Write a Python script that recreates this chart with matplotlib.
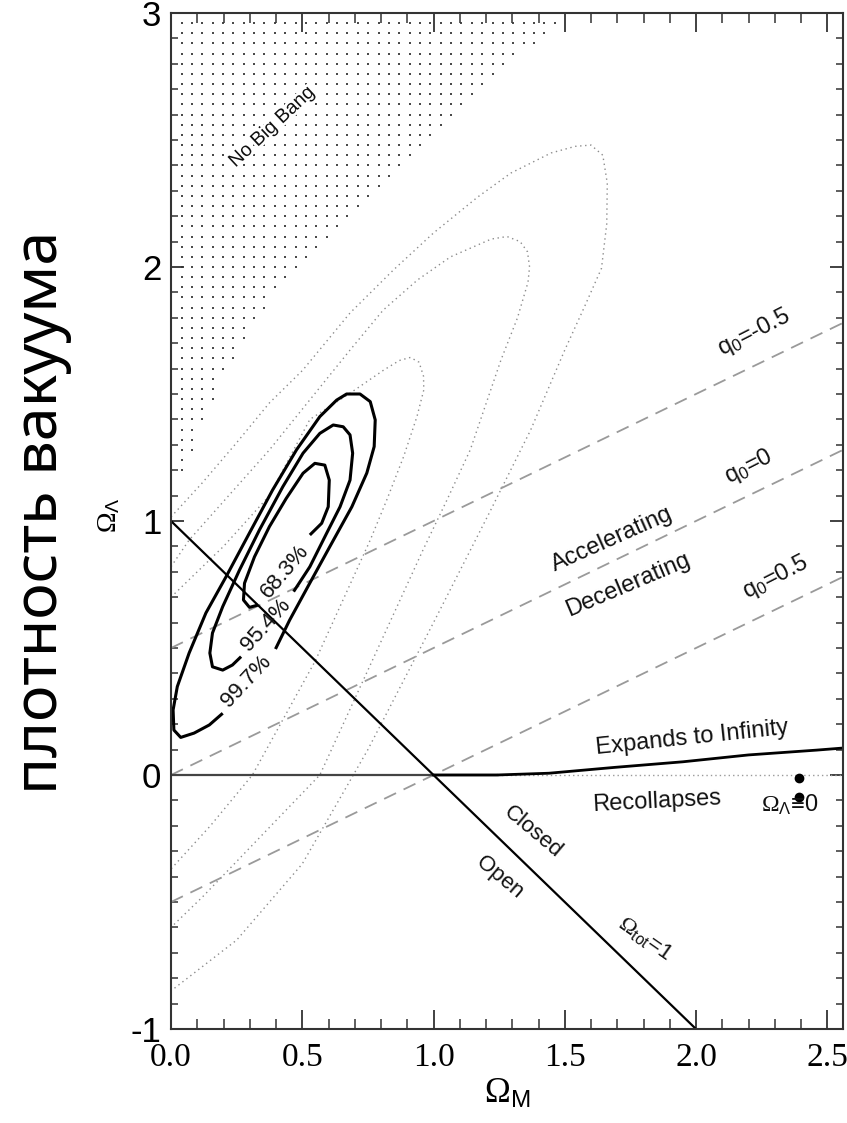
import numpy as np
import matplotlib
matplotlib.use("Agg")
from matplotlib import pyplot as plt
from matplotlib import patheffects
from matplotlib.ticker import MultipleLocator, FormatStrFormatter

plt.rcParams['mathtext.fontset'] = 'custom'
plt.rcParams['mathtext.rm'] = 'Liberation Serif'
plt.rcParams['mathtext.sf'] = 'Liberation Sans'
plt.rcParams['mathtext.it'] = 'Liberation Serif:italic'
plt.rcParams['lines.scale_dashes'] = False
plt.rcParams['axes.unicode_minus'] = False

SANS = 'Liberation Sans'
SERIF = 'Liberation Serif'

X_LIM = (0.0, 2.56)
Y_LIM = (-1.0, 3.0)

# solid confidence contours (open where the label sits)
C68_X = [0.331, 0.299, 0.276, 0.280, 0.318, 0.375, 0.439, 0.503, 0.548, 0.586,
         0.603, 0.599, 0.574, 0.529]
C68_Y = [0.669, 0.660, 0.689, 0.755, 0.859, 0.978, 1.089, 1.188, 1.227, 1.220,
         1.161, 1.056, 0.991, 0.945]
C95_X = [0.267, 0.234, 0.197, 0.158, 0.148, 0.158, 0.197, 0.261, 0.337, 0.426,
         0.503, 0.567, 0.618, 0.656, 0.682, 0.692, 0.682, 0.644, 0.593, 0.529, 0.467]
C95_Y = [0.466, 0.433, 0.413, 0.426, 0.480, 0.559, 0.663, 0.807, 0.965, 1.135,
         1.267, 1.345, 1.378, 1.371, 1.339, 1.267, 1.161, 1.056, 0.952, 0.820, 0.722]
C99_X = [0.197, 0.146, 0.088, 0.037, 0.011, 0.008, 0.024, 0.069, 0.133, 0.210,
         0.299, 0.387, 0.478, 0.567, 0.631, 0.669, 0.720, 0.759, 0.778, 0.774,
         0.746, 0.689, 0.605, 0.529, 0.452, 0.398]
C99_Y = [0.243, 0.197, 0.165, 0.148, 0.177, 0.256, 0.348, 0.480, 0.638, 0.781,
         0.953, 1.122, 1.280, 1.411, 1.476, 1.500, 1.500, 1.470, 1.398, 1.293,
         1.189, 1.056, 0.899, 0.756, 0.610, 0.496]

# dotted contours (second fit), both ends on the left axis
D1_X = [0.0, 0.20, 0.375, 0.529, 0.682, 0.81, 0.87, 0.912, 0.945, 0.962, 0.963,
        0.937, 0.886, 0.822, 0.759, 0.55, 0.31, 0.15, 0.0]
D1_Y = [0.70, 0.90, 1.10, 1.40, 1.503, 1.594, 1.632, 1.644, 1.625, 1.570, 1.516,
        1.411, 1.253, 1.083, 0.925, 0.45, 0.0, -0.20, -0.37]
D2_X = [0.0, 0.069, 0.375, 0.682, 0.808, 0.939, 1.065, 1.22, 1.28, 1.33, 1.358,
        1.366, 1.36, 1.32, 1.257, 1.14, 1.05, 0.96, 0.567, 0.12, 0.0]
D2_Y = [0.82, 0.925, 1.28, 1.673, 1.83, 1.949, 2.04, 2.11, 2.12, 2.10, 2.06,
        2.00, 1.94, 1.80, 1.634, 1.28, 1.08, 0.886, 0.0, -0.48, -0.60]
D3_X = [0.0, 0.119, 0.249, 0.375, 0.502, 0.682, 0.847, 1.0, 1.169, 1.295,
        1.448, 1.54, 1.60, 1.645, 1.662, 1.66, 1.64, 1.575, 1.50, 1.37, 1.218,
        1.0, 0.75, 0.5, 0.25, 0.0]
D3_Y = [1.016, 1.15, 1.307, 1.465, 1.594, 1.819, 1.988, 2.134, 2.276, 2.37,
        2.449, 2.475, 2.48, 2.44, 2.33, 2.17, 1.995, 1.843, 1.673, 1.358, 1.043,
        0.60, 0.10, -0.35, -0.65, -0.85]

# "No Big Bang" region edge, read from the stippling
NBB_Y = [1.00, 1.20, 1.30, 1.40, 1.50, 1.60, 1.70, 1.80, 1.90, 2.00, 2.10, 2.20,
         2.30, 2.40, 2.50, 2.60, 2.70, 2.80, 2.90, 3.00]
NBB_X = [0.00, 0.05, 0.09, 0.13, 0.17, 0.21, 0.29, 0.33, 0.41, 0.49, 0.59, 0.69,
         0.77, 0.89, 0.99, 1.08, 1.17, 1.28, 1.42, 1.50]

# deceleration lines q0 = -0.5, 0, 0.5 (end points)
Q0_LINES = {"-0.5": ([0.0, 2.56], [0.5, 1.78]),
            "0": ([0.0, 2.56], [0.0, 1.28]),
            "0.5": ([0.0, 2.56], [-0.5, 0.78])}

FLAT_X = [0.0, 2.0]
FLAT_Y = [1.0, -1.0]

EXP_X = [1.0, 1.24, 1.44, 1.69, 1.95, 2.20, 2.46, 2.57]
EXP_Y = [0.0, 0.0, 0.007, 0.030, 0.052, 0.079, 0.098, 0.107]

MARK_X = [2.393, 2.393]
MARK_Y = [-0.011, -0.088]


fig = plt.figure(figsize=(8.47, 11.23), dpi=100)
ax = fig.add_axes([171 / 847, 1 - 1029 / 1123, 672 / 847, 1016 / 1123])
ax.set_xlim(*X_LIM)
ax.set_ylim(*Y_LIM)

# stippled "No Big Bang" area
gx, gy = np.meshgrid(np.arange(0.04, 1.6, 0.0395), np.arange(2.96, 1.0, -0.0400))
inside = gx < np.interp(gy, NBB_Y, NBB_X)
ax.scatter(gx[inside], gy[inside], s=2.2, c='#4a4a4a', marker='s', linewidths=0)

dot_style = dict(color='#8c8c8c', lw=1.0, linestyle=(0, (1.0, 2.6)))
for xs, ys in [(D1_X, D1_Y), (D2_X, D2_Y), (D3_X, D3_Y)]:
    ax.plot(xs, ys, **dot_style)

for name, (xs, ys) in Q0_LINES.items():
    ax.plot(xs, ys, color='#9a9a9a', lw=1.3, dashes=(9.5, 6))

ax.plot([0.0, 1.24], [0.0, 0.0], color='#444444', lw=1.6)
ax.plot([1.24, X_LIM[1]], [0.0, 0.0], color='#9a9a9a', lw=1.0, linestyle=(0, (1.0, 2.2)))
ax.plot(EXP_X, EXP_Y, color='black', lw=2.0)
ax.plot(FLAT_X, FLAT_Y, color='black', lw=1.6)

for xs, ys in [(C68_X, C68_Y), (C95_X, C95_Y), (C99_X, C99_Y)]:
    ax.plot(xs, ys, color='black', lw=2.2, solid_capstyle='butt')

ax.plot(MARK_X, MARK_Y, 'o', color='black', ms=6)

# labels inside the plot
txt = dict(family=SANS, ha='center', va='center', color='#111111')
ax.text(0.433, 0.80, '68.3%', rotation=50, fontsize=16, **txt)
ax.text(0.363, 0.59, '95.4%', rotation=48, fontsize=16, **txt)
ax.text(0.289, 0.367, '99.7%', rotation=47, fontsize=16, **txt)
nbb = ax.text(0.387, 2.551, 'No Big Bang', rotation=43, fontsize=14, **txt)
nbb.set_path_effects([patheffects.withStroke(linewidth=4, foreground='white')])
ax.text(1.682, 0.929, 'Accelerating', rotation=24, fontsize=17, **txt)
ax.text(1.742, 0.748, 'Decelerating', rotation=23, fontsize=17, **txt)
ax.text(2.222, 1.74, r'q$_\mathsf{0}$=-0.5', rotation=27, fontsize=17, **txt)
ax.text(2.203, 1.213, r'q$_\mathsf{0}$=0', rotation=27, fontsize=17, **txt)
ax.text(2.303, 0.78, r'q$_\mathsf{0}$=0.5', rotation=27, fontsize=17, **txt)
ax.text(1.985, 0.146, 'Expands to Infinity', rotation=6, fontsize=17, **txt)
ax.text(1.851, -0.106, 'Recollapses', rotation=3, fontsize=17, **txt)
ax.text(2.357, -0.118, r'$\Omega_{\mathsf{\Lambda}}$≡0', fontsize=17, **txt)
ax.text(1.377, -0.223, 'Closed', rotation=-40, fontsize=16, **txt)
ax.text(1.253, -0.404, 'Open', rotation=-40, fontsize=16, **txt)
ax.text(1.805, -0.643, r'$\Omega_{\mathsf{tot}}$=1', rotation=-35, fontsize=16, **txt)

# axes styling
for sp in ax.spines.values():
    sp.set_linewidth(1.5)
    sp.set_color('#333333')
ax.xaxis.set_major_locator(MultipleLocator(0.5))
ax.xaxis.set_minor_locator(MultipleLocator(0.1))
ax.yaxis.set_major_locator(MultipleLocator(1))
ax.yaxis.set_minor_locator(MultipleLocator(0.1))
ax.xaxis.set_major_formatter(FormatStrFormatter('%.1f'))
ax.tick_params(which='both', direction='in', top=True, right=True, color='#333333')
ax.tick_params(axis='x', which='major', length=14, width=1.3, pad=10)
ax.tick_params(axis='x', which='minor', length=7, width=1.1)
ax.tick_params(axis='y', which='major', length=9.5, width=1.3, pad=7)
ax.tick_params(axis='y', which='minor', length=5, width=1.1)
for lab in ax.get_xticklabels():
    lab.set_fontfamily(SERIF)
    lab.set_fontsize(24)
for lab in ax.get_yticklabels():
    lab.set_fontfamily(SANS)
    lab.set_fontsize(25)

ax.set_xlabel(r'$\Omega_{\mathsf{M}}$', fontsize=25, labelpad=2)
fig.text(108 / 847, 1 - 515 / 1123, r'$\Omega_{\mathsf{\Lambda}}$', rotation=90,
         fontsize=20, ha='center', va='center')
fig.text(42 / 847, 1 - 512 / 1123, 'плотность вакуума', rotation=90,
         fontsize=44, family='Noto Sans', ha='center', va='center')

fig.savefig('out.png', dpi=100)
